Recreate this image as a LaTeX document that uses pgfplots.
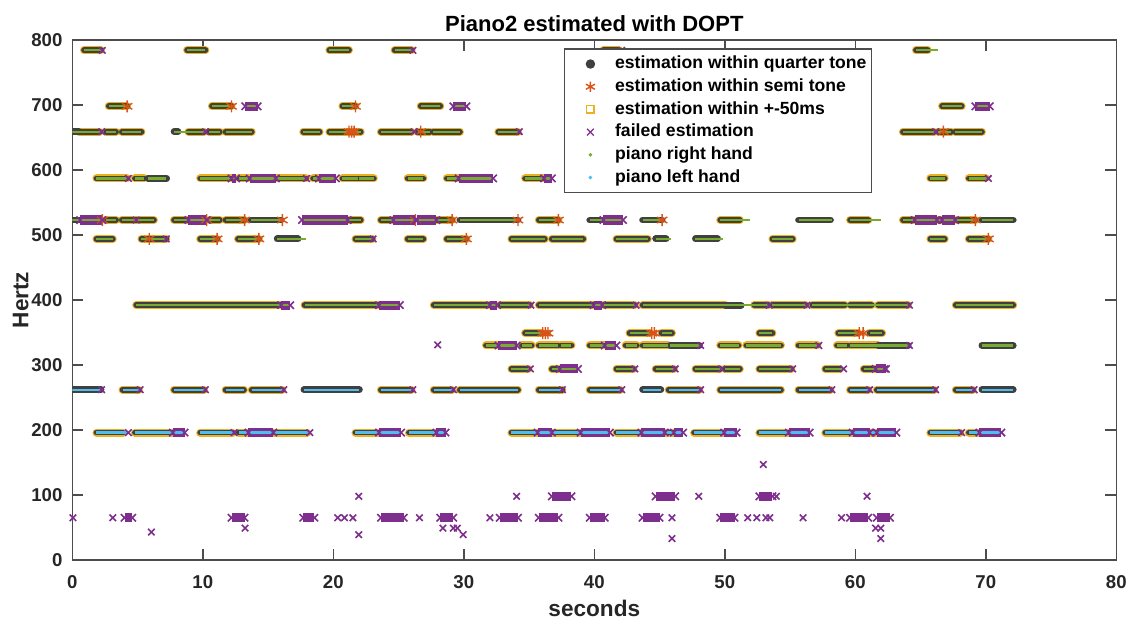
\documentclass[border=0pt]{standalone}
\usepackage{fontspec}
\setmainfont{Liberation Sans}
\usepackage{pgfplots}
\usepackage{pgfplotstable}
\pgfplotsset{compat=1.18}
\definecolor{qdark}{RGB}{64,64,64}
\definecolor{semi}{RGB}{217,83,25}
\definecolor{yel}{RGB}{237,177,32}
\definecolor{purp}{RGB}{126,47,142}
\definecolor{rgreen}{RGB}{119,172,48}
\definecolor{lcyan}{RGB}{77,190,238}

% estimation within quarter tone and within +-50ms (start end Hz)
\pgfplotstableread{
t0 t1 f
0.9 2.2 784
8.8 10.2 784
19.7 21.2 784
24.7 26.0 784
40.7 41.9 784
64.65 65.55 784
2.8 4.2 698
10.7 12.2 698
20.7 21.7 698
26.7 28.2 698
66.65 68.15 698
0.5 2.1 659
2.6 3.35 659
3.8 5.3 659
8.9 10.1 659
10.5 11.3 659
11.75 13.75 659
17.7 18.95 659
19.7 22.1 659
23.65 26.0 659
26.5 27.4 659
27.65 29.7 659
32.65 34.15 659
63.65 66.05 659
66.35 67.35 659
67.65 69.7 659
1.85 4.2 587
4.8 5.5 587
9.8 12.2 587
12.75 13.5 587
15.6 17.9 587
18.45 18.9 587
20.7 21.9 587
22.0 23.1 587
25.7 26.9 587
28.7 29.6 587
34.7 36.15 587
65.75 66.85 587
68.7 70.0 587
2.6 3.35 523
3.8 6.25 523
7.8 8.9 523
10.5 11.3 523
11.75 13.2 523
21.1 22.1 523
23.65 24.6 523
27.95 29.1 523
35.75 37.25 523
49.65 51.15 523
59.6 61.0 523
63.65 64.55 523
66.35 66.65 523
67.75 69.2 523
1.85 3.1 494
5.3 7.2 494
9.8 11.1 494
12.7 14.3 494
21.7 23.0 494
25.7 26.9 494
28.7 30.2 494
33.65 36.2 494
36.75 39.15 494
41.7 44.1 494
53.65 55.2 494
65.75 66.85 494
68.7 70.2 494
4.9 16.0 392
17.8 23.5 392
27.7 32.0 392
32.75 35.05 392
35.75 39.95 392
40.7 43.1 392
43.7 50.05 392
52.25 53.35 392
53.65 56.2 392
56.7 59.2 392
59.6 61.25 392
61.75 64.05 392
67.7 72.1 392
34.7 35.95 349
42.7 44.3 349
45.15 45.95 349
52.65 53.65 349
58.7 60.2 349
61.1 62.05 349
31.7 32.65 330
34.45 35.2 330
35.75 37.25 330
37.45 38.25 330
39.65 40.8 330
42.4 43.25 330
43.7 45.65 330
49.65 51.05 330
51.65 54.3 330
55.65 57.1 330
58.6 59.4 330
59.6 61.75 330
33.65 34.95 294
36.75 37.35 294
41.7 43.0 294
44.7 46.1 294
47.75 49.65 294
50.05 51.15 294
52.65 55.1 294
57.7 58.8 294
60.65 61.55 294
3.85 5.1 262
7.8 10.1 262
11.75 13.15 262
13.75 16.1 262
23.65 26.0 262
27.7 29.1 262
29.7 34.15 262
35.75 37.55 262
39.65 42.0 262
45.7 48.05 262
49.65 54.3 262
55.65 58.1 262
59.6 61.0 262
61.65 66.05 262
67.7 69.0 262
1.85 3.9 196
4.8 7.7 196
9.8 12.3 196
12.75 13.5 196
15.4 18.0 196
21.7 23.5 196
25.8 27.9 196
33.65 35.65 196
36.75 38.95 196
41.7 43.6 196
45.4 46.1 196
47.65 49.95 196
52.65 54.9 196
57.7 59.8 196
61.1 61.65 196
65.75 68.05 196
68.7 69.5 196
}\Gtab

% estimation within quarter tone only
\pgfplotstableread{
t0 t1 f
0 0.5 659
7.8 8.1 659
5.8 7.23 587
0 0.6 523
13.7 16.0 523
29.7 34.15 523
39.65 40.7 523
43.7 45.2 523
55.65 58.1 523
69.7 72.1 523
15.7 17.3 494
44.7 45.5 494
47.75 49.45 494
50.05 51.25 392
45.8 48.05 330
61.75 64.05 330
69.7 72.1 330
0 2.2 262
17.75 22.0 262
43.7 45.1 262
69.7 72.1 262
}\Dtab

% failed estimation, runs
\pgfplotstableread{
t0 t1 f
13.25 14.2 698
29.2 30.2 698
69.2 70.3 698
12.2 12.55 587
13.6 15.6 587
18.9 20.2 587
29.6 32.25 587
36.15 36.75 587
0.6 2.3 523
8.9 10.3 523
17.6 21.1 523
24.6 26.3 523
26.4 27.9 523
40.7 42.2 523
64.55 66.25 523
66.65 67.65 523
16.0 16.7 392
23.5 25.1 392
32.0 32.55 392
39.95 40.6 392
32.65 34.05 330
40.8 41.7 330
37.35 38.75 294
61.55 62.35 294
7.7 8.6 196
13.5 15.4 196
23.5 25.2 196
27.9 28.6 196
35.65 36.75 196
38.95 41.2 196
43.6 45.4 196
46.1 46.8 196
49.95 50.9 196
54.9 56.5 196
59.8 61.1 196
61.65 63.15 196
69.5 71.2 196
4.0 4.6 65
12.2 13.2 65
17.7 18.55 65
23.65 25.4 65
28.2 29.2 65
32.75 34.15 65
35.75 37.25 65
39.65 40.8 65
43.7 45.0 65
49.65 50.75 65
59.6 61.0 65
61.65 62.65 65
36.75 38.25 98
44.7 46.2 98
52.65 53.65 98
}\Ftab

% failed estimation, single points
\pgfplotstableread{
t f
2.3 784
26.1 784
42.1 784
2.25 659
10.2 659
26.2 659
34.25 659
66.15 659
4.3 587
17.95 587
70.2 587
4.9 523
7.2 494
23.05 494
35.15 392
43.2 392
53.4 392
56.3 392
64.15 392
48.15 330
57.2 330
64.15 330
35.1 294
43.1 294
46.2 294
49.75 294
55.2 294
59.1 294
62.25 294
2.25 262
5.2 262
10.2 262
16.2 262
26.1 262
29.2 262
37.55 262
42.1 262
48.15 262
58.2 262
61.1 262
66.15 262
69.1 262
4.3 196
12.4 196
18.2 196
68.15 196
0.05 65
3.1 65
20.34 65
20.85 65
21.5 65
26.6 65
32.0 65
45.95 65
51.75 65
52.45 65
53.15 65
53.45 65
56.0 65
58.95 65
21.95 98
34.05 98
48.0 98
53.95 98
60.9 98
13.24 49
28.4 49
29.2 49
29.5 49
61.55 49
61.95 49
6.06 43
21.95 39
29.95 39
45.95 33
61.95 33
52.95 147
28.0 331
}\Xtab

% estimation within semi tone
\pgfplotstableread{
t f
4.2 698
12.2 698
21.7 698
21.2 659
21.4 659
21.6 659
26.7 659
66.75 659
2.3 523
10.3 523
13.2 523
16.1 523
26.3 523
29.1 523
34.15 523
37.25 523
45.2 523
69.2 523
5.9 494
11.1 494
14.3 494
30.2 494
70.2 494
36.05 349
36.25 349
36.45 349
44.4 349
44.6 349
60.3 349
60.6 349
}\Stab

% piano right hand (ground truth)
\pgfplotstableread{
t0 t1 f
0.9 2.35 784
8.8 10.2 784
19.7 21.2 784
24.7 26.2 784
40.7 42.1 784
64.65 66.35 784
2.8 4.3 698
10.7 12.3 698
13.2 14.2 698
20.7 21.8 698
26.7 28.2 698
29.2 30.2 698
66.65 68.15 698
69.2 70.3 698
0 2.3 659
2.6 3.35 659
3.8 5.3 659
7.8 10.2 659
10.5 11.3 659
11.75 13.75 659
17.7 18.95 659
19.7 22.1 659
23.65 26.2 659
26.5 27.4 659
27.65 29.7 659
32.65 34.25 659
63.65 66.15 659
66.35 67.35 659
67.65 69.7 659
1.85 4.3 587
4.8 5.5 587
5.8 7.2 587
9.8 12.55 587
12.75 13.5 587
13.6 17.95 587
18.45 20.2 587
20.7 21.9 587
22.0 23.1 587
25.7 26.9 587
28.7 32.25 587
34.7 36.75 587
65.75 66.85 587
68.7 70.3 587
0 2.3 523
2.6 3.35 523
3.8 6.25 523
7.8 10.3 523
10.5 11.3 523
11.75 13.3 523
13.7 16.2 523
17.6 22.1 523
23.65 26.3 523
26.4 29.1 523
29.7 34.15 523
35.75 37.25 523
39.65 42.2 523
43.7 45.2 523
49.65 51.95 523
55.65 58.2 523
59.6 61.95 523
63.65 66.25 523
66.35 67.65 523
67.75 69.2 523
69.7 72.1 523
1.85 3.1 494
5.3 7.3 494
9.8 11.1 494
12.7 14.3 494
15.7 17.9 494
21.7 23.1 494
25.7 26.9 494
28.7 30.2 494
33.65 36.2 494
36.75 39.15 494
41.7 44.1 494
44.7 45.9 494
47.75 49.85 494
53.65 55.2 494
65.75 66.85 494
68.7 70.3 494
4.9 16.7 392
17.8 25.1 392
27.7 32.55 392
32.75 35.15 392
35.75 40.6 392
40.7 43.2 392
43.7 53.4 392
53.65 56.3 392
56.7 64.15 392
67.7 72.1 392
34.7 36.65 349
42.7 44.8 349
45.15 45.95 349
52.65 53.65 349
58.7 60.8 349
61.1 62.05 349
31.7 34.05 330
34.45 35.2 330
35.75 37.25 330
37.45 38.25 330
39.65 41.7 330
42.4 43.25 330
43.7 45.65 330
45.8 48.15 330
49.65 51.05 330
51.65 54.3 330
55.65 57.2 330
58.6 59.4 330
59.6 64.15 330
69.7 72.1 330
33.65 35.15 294
36.75 38.75 294
41.7 43.1 294
44.7 46.2 294
47.75 49.75 294
50.05 51.15 294
52.65 55.2 294
57.7 59.1 294
60.65 62.25 294
}\RHtab

% piano left hand (ground truth)
\pgfplotstableread{
t0 t1 f
0 2.25 262
3.85 5.2 262
7.8 10.2 262
11.75 13.15 262
13.75 16.2 262
17.75 22.0 262
23.65 26.1 262
27.7 29.2 262
29.7 34.15 262
35.75 37.55 262
39.65 42.1 262
43.7 45.1 262
45.7 48.15 262
49.65 54.3 262
55.65 58.2 262
59.6 61.1 262
61.65 66.15 262
67.7 69.1 262
69.7 72.1 262
1.85 4.3 196
4.8 8.6 196
9.8 12.4 196
12.75 18.2 196
21.7 25.2 196
25.8 28.6 196
33.65 41.2 196
41.7 46.8 196
47.65 50.9 196
52.65 56.5 196
57.7 63.15 196
65.75 68.15 196
68.7 71.2 196
}\LHtab

\begin{document}
\begin{tikzpicture}
\begin{axis}[
  name=ax,
  scale only axis,
  width=522pt, height=260pt,
  xmin=0, xmax=80, ymin=0, ymax=800,
  xtick={0,10,...,80}, ytick={0,100,...,800},
  tick align=inside,
  major tick length=5.5pt,
  axis line style={draw=black!70, line width=0.8pt},
  tick style={draw=black!70, line width=0.8pt},
  /pgf/number format/assume math mode=true,
  tick label style={font=\bfseries\fontsize{9.3}{11}\selectfont, text=black!85},
  xticklabel style={anchor=base, yshift=-14.15pt},
  yticklabel style={xshift=-1.4pt},
  title={Piano2 estimated with DOPT},
  title style={at={(axis description cs:0.5,1.016)}, anchor=base, yshift=-6pt, font=\bfseries\fontsize{11}{13}\selectfont},
  xlabel={seconds},
  xlabel style={at={(axis description cs:0.5,-0.1077)}, anchor=base, font=\bfseries\fontsize{11.3}{13}\selectfont, text=black!85},
  ylabel={Hertz},
  ylabel style={at={(axis description cs:-0.042,0.5)}, anchor=base, font=\bfseries\fontsize{11.3}{13}\selectfont, text=black!85},
  legend cell align=left,
  legend image code/.code={\path (-2pt,0pt) (17pt,0pt); \draw[#1] plot coordinates {(8.5pt,0pt)};},
  legend style={at={(axis description cs:0.471,0.984)}, anchor=north west,
    draw=black!70, fill=white, line width=0.7pt,
    font=\bfseries\fontsize{8.8}{10}\selectfont,
    inner xsep=2pt, inner ysep=2.75pt, row sep=1.85pt,
    nodes={inner sep=0.5pt, text height=6.6pt, text depth=1.9pt},
    /tikz/every odd column/.append style={column sep=3pt}},
]
\addlegendimage{only marks, mark=*, mark size=2pt, color=qdark}
\addlegendentry{estimation within quarter tone}
\addlegendimage{only marks, mark=asterisk, mark size=2.6pt, color=semi, mark options={line width=0.7pt}}
\addlegendentry{estimation within semi tone}
\addlegendimage{only marks, mark=square, mark size=1.8pt, color=yel, mark options={line width=0.6pt}}
\addlegendentry{estimation within +-50ms}
\addlegendimage{only marks, mark=x, mark size=2.4pt, color=purp, mark options={line width=0.6pt}}
\addlegendentry{failed estimation}
\addlegendimage{only marks, mark=*, mark size=0.5pt, color=rgreen}
\addlegendentry{piano right hand}
\addlegendimage{only marks, mark=*, mark size=0.5pt, color=lcyan}
\addlegendentry{piano left hand}

% yellow rim (+-50ms) and dark body (quarter tone)
\addplot[forget plot, draw=yel, line width=4pt, line cap=round,
  quiver={u=\thisrow{t1}-\thisrow{t0}, v=0, every arrow/.append style={line cap=round}}]
  table[x=t0, y=f] {\Gtab};
\addplot[forget plot, draw=qdark, line width=2.9pt, line cap=round,
  quiver={u=\thisrow{t1}-\thisrow{t0}, v=0, every arrow/.append style={line cap=round}}]
  table[x=t0, y=f] {\Gtab};
\addplot[forget plot, draw=qdark, line width=3.4pt, line cap=round,
  quiver={u=\thisrow{t1}-\thisrow{t0}, v=0, every arrow/.append style={line cap=round}}]
  table[x=t0, y=f] {\Dtab};
% semi tone
\addplot[forget plot, only marks, mark=asterisk, mark size=3pt, color=semi, mark options={line width=0.7pt}]
  table[x=t, y=f] {\Stab};
% failed
\addplot[forget plot, draw=purp, line width=4.6pt,
  quiver={u=\thisrow{t1}-\thisrow{t0}, v=0}]
  table[x=t0, y=f] {\Ftab};
\addplot[forget plot, only marks, mark=x, mark size=2.6pt, color=purp, mark options={line width=0.8pt}]
  table[x=t0, y=f] {\Ftab};
\addplot[forget plot, only marks, mark=x, mark size=2.6pt, color=purp, mark options={line width=0.8pt}]
  table[x=t1, y=f] {\Ftab};
\addplot[forget plot, only marks, mark=x, mark size=2.3pt, color=purp, mark options={line width=0.8pt}]
  table[x=t, y=f] {\Xtab};
% ground truth
\addplot[forget plot, draw=rgreen, line width=1.1pt,
  quiver={u=\thisrow{t1}-\thisrow{t0}, v=0}]
  table[x=t0, y=f] {\RHtab};
\addplot[forget plot, draw=lcyan, line width=1.1pt,
  quiver={u=\thisrow{t1}-\thisrow{t0}, v=0}]
  table[x=t0, y=f] {\LHtab};
\end{axis}
\pgfresetboundingbox
\path[use as bounding box] ([xshift=-36.15pt,yshift=-29.5pt]ax.south west) rectangle ([xshift=4.85pt,yshift=20pt]ax.north east);
\end{tikzpicture}
\end{document}
